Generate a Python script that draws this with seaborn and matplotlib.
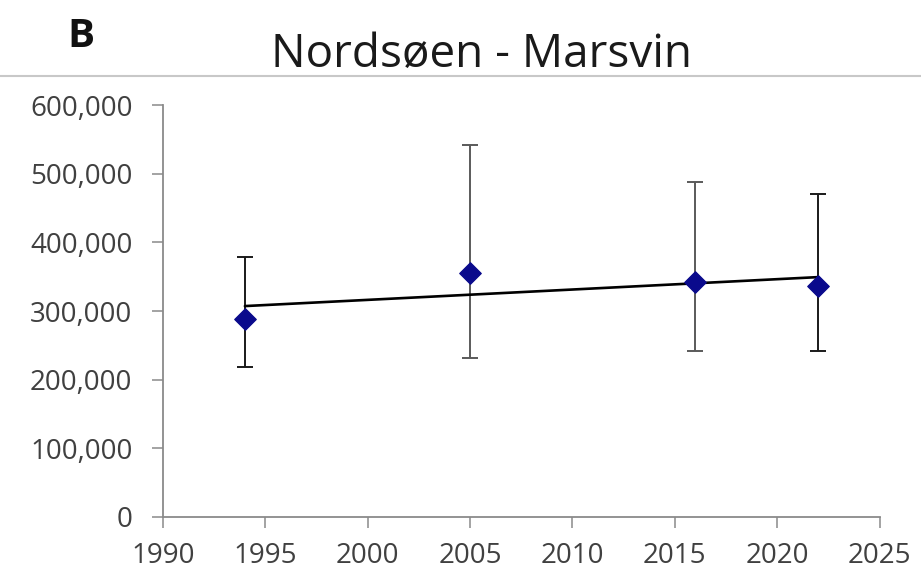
import numpy as np
import pandas as pd
import matplotlib
matplotlib.use("Agg")
import matplotlib.pyplot as plt
from matplotlib.lines import Line2D
from matplotlib.ticker import FuncFormatter
import seaborn as sns

# Values
years = [1994, 2005, 2016, 2022]
abundance = [288000, 355000, 342000, 336000]
upper = [379000, 542000, 488000, 471000]
lower = [219000, 232000, 242000, 242000]
x_ticks = [1990, 1995, 2000, 2005, 2010, 2015, 2020, 2025]
y_ticks = [0, 100000, 200000, 300000, 400000, 500000, 600000]

df = pd.DataFrame({"year": years, "n": abundance, "hi": upper, "lo": lower})

sns.set_style("white")
plt.rcParams['font.family'] = ['Open Sans', 'DejaVu Sans']

fig = plt.figure(figsize=(9.21, 5.88), dpi=100)
ax = fig.add_axes([0.177, 0.121, 0.778, 0.700])

# error bars (the outer two are drawn darker in the source)
bar_colors = ["#1a1a1a", "#5a5a5a", "#5a5a5a", "#1a1a1a"]
for i, row in df.iterrows():
    ax.errorbar(row["year"], row["n"],
                yerr=[[row["n"] - row["lo"]], [row["hi"] - row["n"]]],
                fmt="none", ecolor=bar_colors[i], elinewidth=1.4,
                capsize=6, capthick=1.4, zorder=2)

# linear trendline over the data range
sns.regplot(data=df, x="year", y="n", scatter=False, ci=None, ax=ax,
            line_kws={"color": "black", "lw": 1.9, "zorder": 3})

# data points
sns.scatterplot(data=df, x="year", y="n", marker="D", s=120, color="#0a0a8c",
                edgecolor="#0a0a8c", ax=ax, zorder=4)

ax.set_xlim(1990, 2025)
ax.set_ylim(0, 600000)
ax.set_xticks(x_ticks)
ax.set_yticks(y_ticks)
ax.yaxis.set_major_formatter(FuncFormatter(lambda v, p: f"{int(v):,}"))
ax.set_xlabel("")
ax.set_ylabel("")

for side in ["top", "right"]:
    ax.spines[side].set_visible(False)
for side in ["left", "bottom"]:
    ax.spines[side].set_color("#8a8a8a")
    ax.spines[side].set_linewidth(1.3)
ax.tick_params(axis="both", which="major", direction="out", length=8, width=1.1,
               color="#8a8a8a", labelsize=20, labelcolor="#404040", left=True, bottom=True)
ax.tick_params(axis="y", pad=14)
ax.tick_params(axis="x", pad=10)

fig.text(0.523, 0.886, "Nordsøen - Marsvin", fontsize=33, ha="center", va="baseline",
         color="#1a1a1a")
fig.text(0.073, 0.920, "B", fontsize=29, fontweight="bold", ha="left", va="baseline",
         color="#111111")
fig.add_artist(Line2D([0.0, 1.0], [0.871, 0.871], transform=fig.transFigure,
                      color="#c8c8c8", lw=1.5))

fig.savefig("out.png", dpi=100)
